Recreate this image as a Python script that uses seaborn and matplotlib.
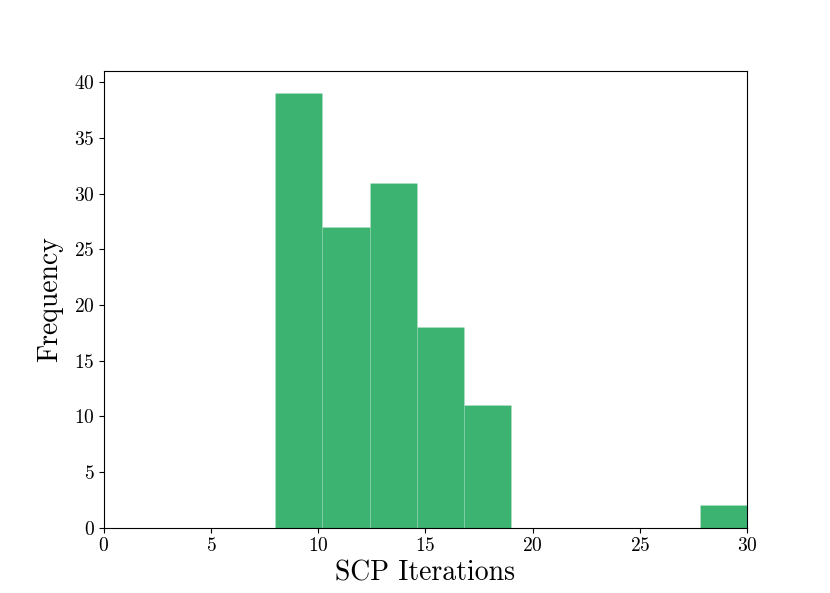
import matplotlib
matplotlib.use("Agg")
import matplotlib.pyplot as plt
import seaborn as sns

# histogram: 10 bins of width 2.2 between 8 and 30
bin_edges = [8.0, 10.2, 12.4, 14.6, 16.8, 19.0, 21.2, 23.4, 25.6, 27.8, 30.0]
bin_mids = [9.1, 11.3, 13.5, 15.7, 17.9, 20.1, 22.3, 24.5, 26.7, 28.9]
counts = [39, 27, 31, 18, 11, 0, 0, 0, 0, 2]

plt.rcParams["font.family"] = "serif"
plt.rcParams["font.serif"] = ["cmr10"]
plt.rcParams["mathtext.fontset"] = "cm"
plt.rcParams["axes.formatter.use_mathtext"] = True

fig, ax = plt.subplots(figsize=(8.3, 5.93), dpi=100)
sns.histplot(x=bin_mids, weights=counts, bins=bin_edges, color="#3cb371",
             alpha=1.0, edgecolor=(1, 1, 1, 0.15), linewidth=0.5, ax=ax)

ax.set_xlim(0, 30)
ax.set_ylim(0, 41)
ax.set_xticks([0, 5, 10, 15, 20, 25, 30])
ax.set_yticks([0, 5, 10, 15, 20, 25, 30, 35, 40])
ax.tick_params(labelsize=14, pad=3)
ax.set_xlabel("SCP Iterations", fontsize=20)
ax.set_ylabel("Frequency", fontsize=20, labelpad=8)

plt.savefig("out.png", dpi=100)
